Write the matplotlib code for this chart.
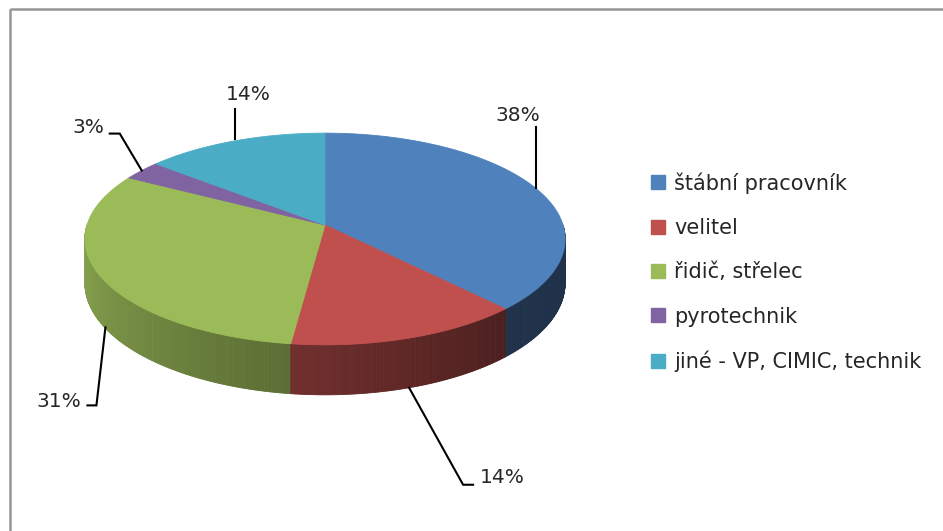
import matplotlib
matplotlib.use("Agg")
import matplotlib.pyplot as plt
import numpy as np
from matplotlib.collections import PolyCollection
from matplotlib.patches import Polygon, Rectangle
from matplotlib.lines import Line2D

# data
categories = ['štábní pracovník', 'velitel', 'řidič, střelec', 'pyrotechnik',
              'jiné - VP, CIMIC, technik']
shares = [38, 14, 31, 3, 14]
labels = ['38%', '14%', '31%', '3%', '14%']
colors = ['#4F81BD', '#C0504D', '#9BBB59', '#8064A2', '#4BACC6']

# pie geometry (pixels), simple perspective
cx, cy = 325, 225
R, r = 238, 104
k = 0.132       # perspective strength
D = 43.4        # thickness

# label leaders: anchor nudge, elbow offset from anchor, stub length,
# text offset from stub end, ha
leaders = [
    ((0, 0), (0, -61), 0, (-18, -12), 'center'),
    ((0, 0), (54, 97), 10, (7, -7), 'left'),
    ((6, 6), (-9, 78), -9, (-6, -4), 'right'),
    ((0, 0), (-22, -37), -10, (-5, -6), 'right'),
    ((1, -2), (0, -30), 0, (13, -14), 'center'),
]


def proj(t, z=0.0):
    t = np.radians(t)
    X, Y = np.cos(t), np.sin(t)
    w = 1 + k * Y
    return cx + R * X / w, cy - r * Y / w + z * D / w


def shade(t):
    return float(np.clip(0.39 + 0.0039 * (-t - 47), 0.39, 0.92))


fig = plt.figure(figsize=(9.43, 5.31), dpi=100)
ax = fig.add_axes([0, 0, 1, 1])
ax.set_xlim(0, 943)
ax.set_ylim(531, 0)
ax.axis('off')

frac = np.cumsum([0] + shares) / float(sum(shares))
starts = 90 - 360 * frac[:-1]
ends = 90 - 360 * frac[1:]

# sides (front half only), painted back to front
quads, qcols, depth = [], [], []
for i in range(len(shares)):
    lo, hi = max(ends[i], -180), min(starts[i], 0)
    if lo >= hi:
        continue
    ts = np.linspace(hi, lo, max(2, int((hi - lo) * 2) + 1))
    base = np.array(matplotlib.colors.to_rgb(colors[i]))
    for a, b in zip(ts[:-1], ts[1:]):
        p = [proj(a), proj(b), proj(b, 1), proj(a, 1)]
        quads.append(p)
        qcols.append(tuple(base * shade((a + b) / 2)))
        depth.append(np.sin(np.radians((a + b) / 2)))
order = np.argsort(depth)[::-1]
pc = PolyCollection([quads[j] for j in order], facecolors=[qcols[j] for j in order],
                    edgecolors=[qcols[j] for j in order], linewidths=0.6)
ax.add_collection(pc)

# top face
for i in range(len(shares)):
    ts = np.linspace(starts[i], ends[i], 200)
    pts = [(cx, cy)] + [proj(t) for t in ts]
    ax.add_patch(Polygon(pts, closed=True, facecolor=colors[i],
                         edgecolor=colors[i], linewidth=0.6))

# data labels with leader lines
for i in range(len(shares)):
    mid = (starts[i] + ends[i]) / 2
    z = 1 if np.sin(np.radians(mid)) < 0 else 0
    ax0, ay0 = proj(mid, z)
    (nx, ny), (ex, ey), stub, (tx, ty), ha = leaders[i]
    ax0, ay0 = ax0 + nx, ay0 + ny
    xs = [ax0, ax0 + ex, ax0 + ex + stub]
    ys = [ay0, ay0 + ey, ay0 + ey]
    ax.plot(xs, ys, color='black', lw=1.5, solid_joinstyle='miter')
    ax.text(xs[-1] + tx, ys[-1] + ty, labels[i], ha=ha, va='center',
            fontsize=14.5, color='#262626')

# chart frame
ax.add_patch(Rectangle((10, 9), 1000, 600, fill=False, edgecolor='#969696', lw=1.8))

handles = [Line2D([], [], marker='s', linestyle='none', markersize=9.5,
                  markerfacecolor=c, markeredgecolor=c) for c in colors]
ax.legend(handles, categories, loc='upper left', bbox_to_anchor=(650 / 943, 1 - 172 / 531),
          frameon=False, fontsize=15, labelspacing=1.17, handlelength=0.8,
          handletextpad=0.35, borderaxespad=0, borderpad=0, labelcolor='#262626')

fig.savefig('out.png', dpi=100)
